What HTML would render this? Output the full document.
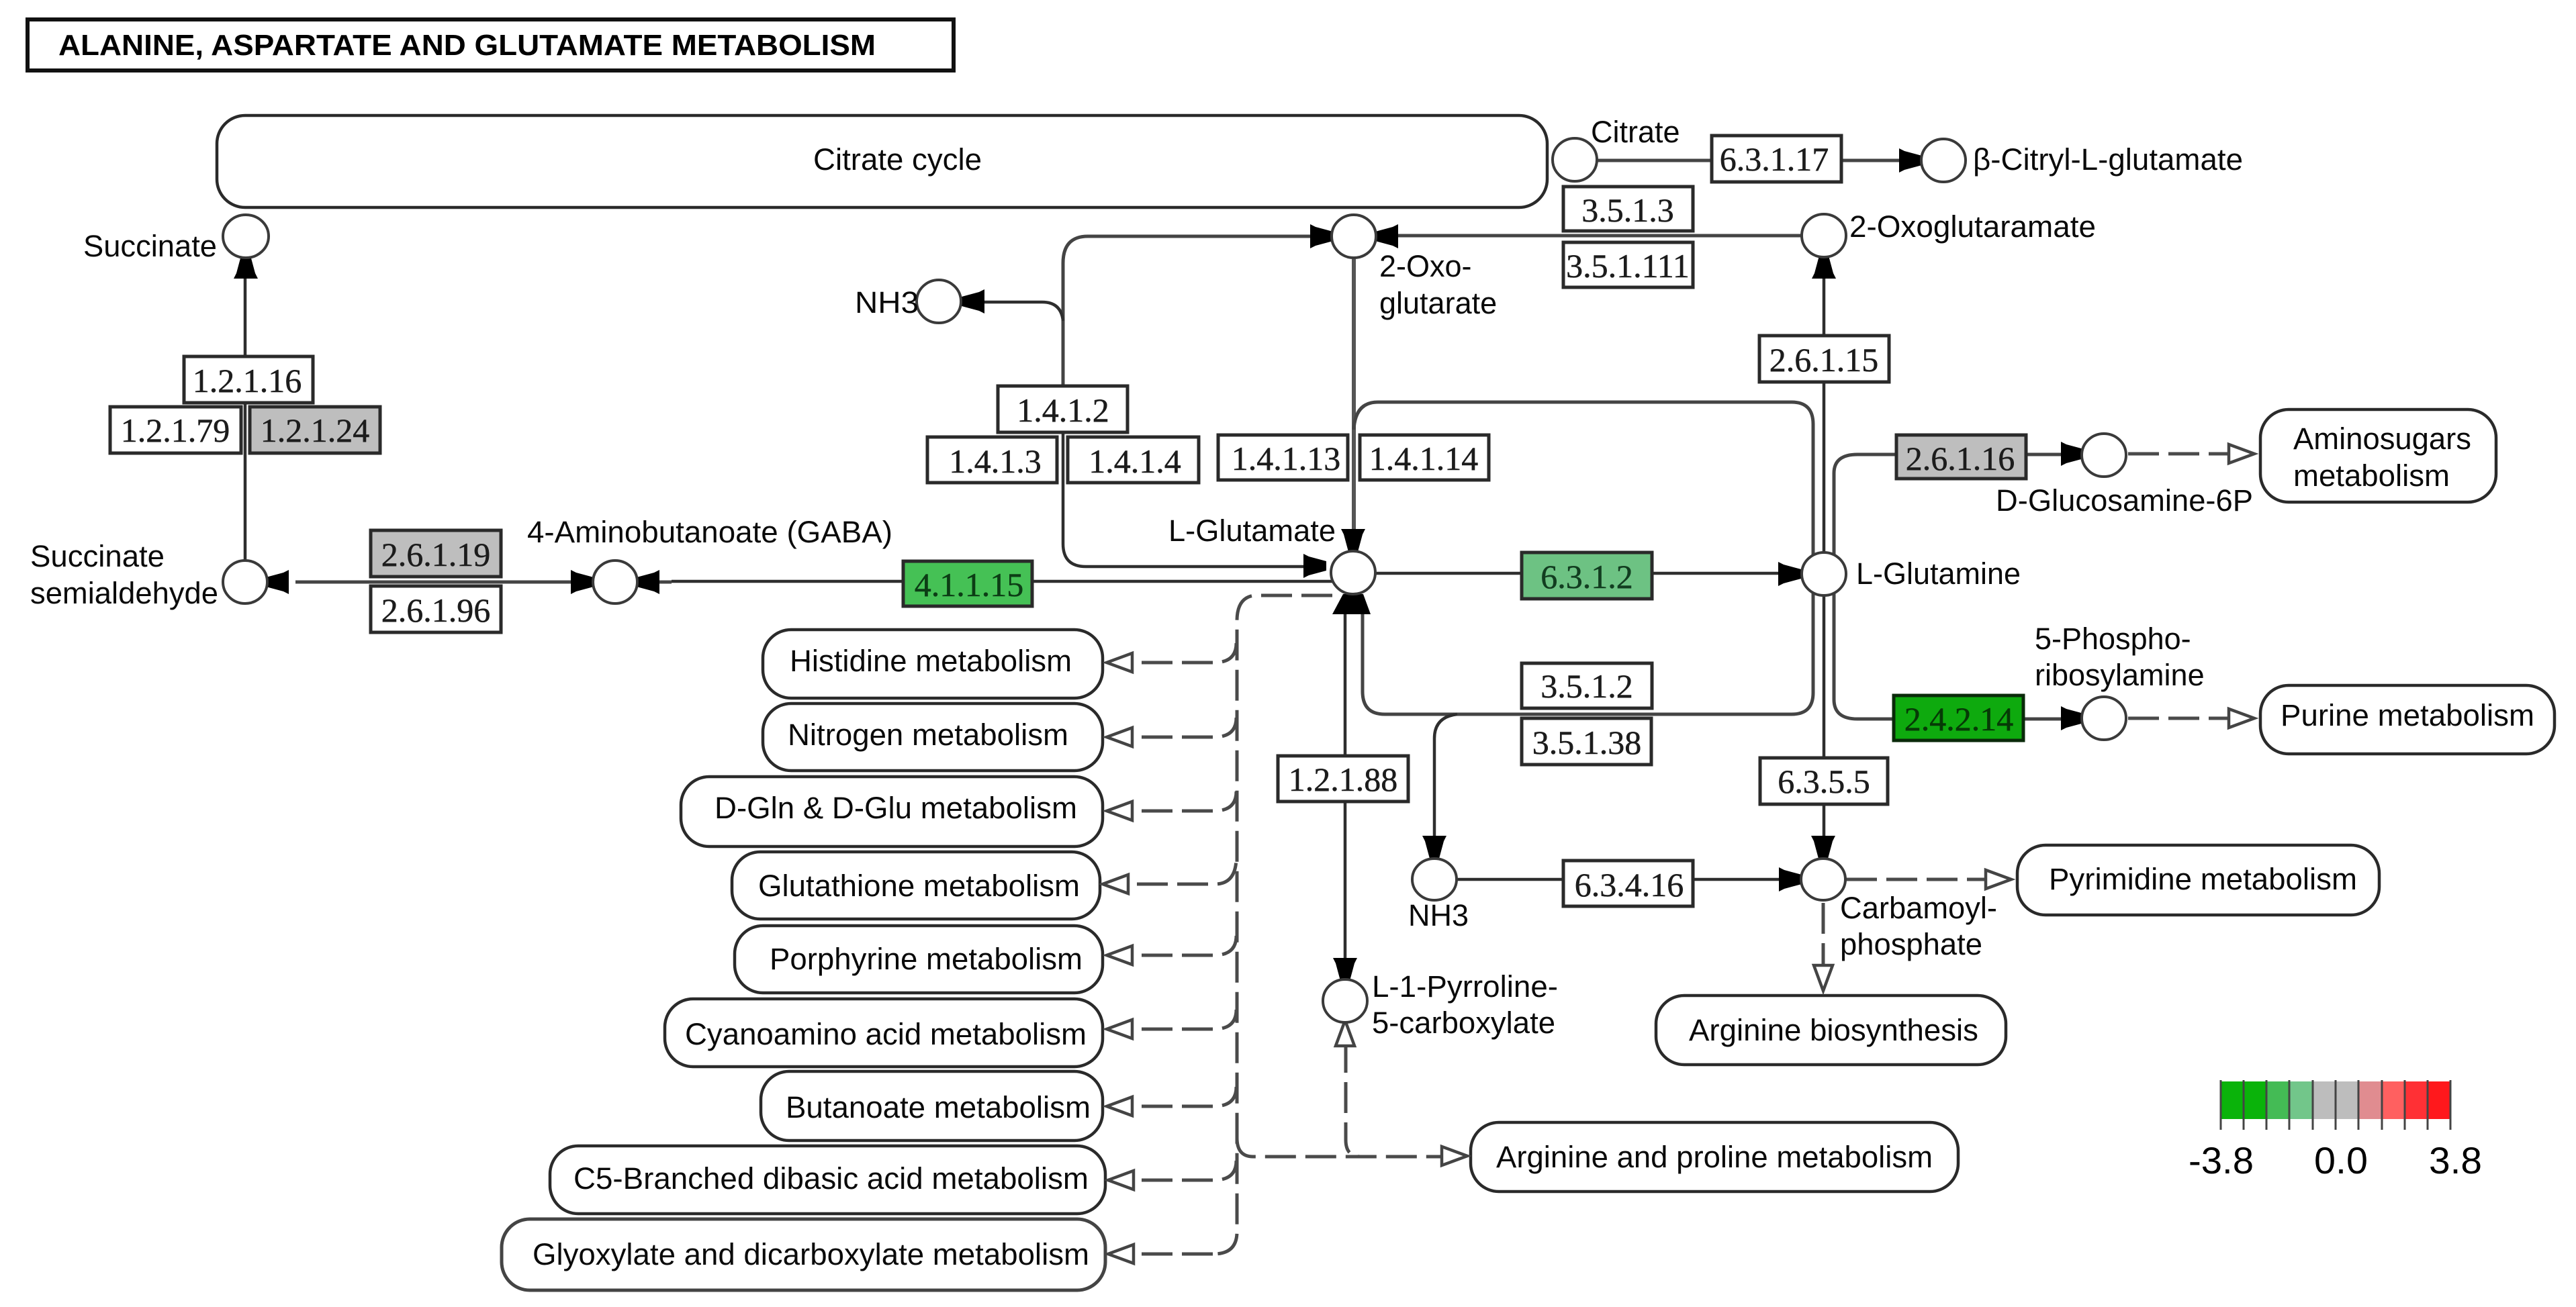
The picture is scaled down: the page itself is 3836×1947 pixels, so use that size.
<!DOCTYPE html>
<html><head><meta charset="utf-8"><style>
html,body{margin:0;padding:0;background:#fff}
svg{display:block}
.t{font-family:"Liberation Sans",sans-serif;font-size:45px;fill:#0a0a0a}
.e{font-family:"Liberation Serif",serif;font-size:50px;fill:#1c1c1c;text-anchor:middle;stroke:#1c1c1c;stroke-width:.5}
.l{fill:none;stroke:#2e2e2e;stroke-width:4.5}
.g{fill:none;stroke:#555;stroke-width:6}
.d{fill:none;stroke:#4a4a4a;stroke-width:5;stroke-dasharray:46 14}
.p{fill:#fff;stroke:#2a2a2a;stroke-width:4.5}
.b{stroke:#2a2a2a;stroke-width:5;fill:#fff}
.c{fill:#fff;stroke:#3a3a3a;stroke-width:4}
</style></head><body>
<svg xmlns="http://www.w3.org/2000/svg" width="3836" height="1947" viewBox="0 0 3836 1947">
<defs>
<polygon id="f" points="0,-7 0,7 -26,14 -34,18 -34,-18 -26,-14" fill="#000"/>
<polygon id="o" points="0,0 -38,-14 -38,14" fill="#fff" stroke="#444" stroke-width="4.5"/>
</defs>
<rect width="3836" height="1947" fill="#fff"/>

<!-- title -->
<rect x="41" y="29" width="1379" height="76" fill="#fff" stroke="#111" stroke-width="6"/>
<text x="87" y="82" textLength="1217" lengthAdjust="spacingAndGlyphs" style="font-family:'Liberation Sans',sans-serif;font-size:44px;font-weight:bold;fill:#000">ALANINE, ASPARTATE AND GLUTAMATE METABOLISM</text>

<!-- Pathway boxes -->
<rect class="p" x="323" y="172" width="1981" height="137" rx="42" ry="42"/>
<rect class="p" x="1136" y="938" width="506" height="102" rx="42" ry="42"/>
<rect class="p" x="1136" y="1048" width="506" height="100" rx="42" ry="42"/>
<rect class="p" x="1014" y="1157" width="628" height="104" rx="42" ry="42"/>
<rect class="p" x="1090" y="1269" width="548" height="100" rx="42" ry="42"/>
<rect class="p" x="1094" y="1379" width="548" height="100" rx="42" ry="42"/>
<rect class="p" x="990" y="1488" width="652" height="101" rx="42" ry="42"/>
<rect class="p" x="1133" y="1596" width="509" height="103" rx="42" ry="42"/>
<rect class="p" x="819" y="1707" width="827" height="101" rx="42" ry="42"/>
<rect class="p" x="747" y="1816" width="899" height="106" rx="42" ry="42" style="stroke:#444;stroke-width:5"/>
<rect class="p" x="3366" y="610" width="351" height="138" rx="42" ry="42"/>
<rect class="p" x="3366" y="1021" width="438" height="102" rx="42" ry="42"/>
<rect class="p" x="3004" y="1259" width="539" height="104" rx="42" ry="42"/>
<rect class="p" x="2466" y="1483" width="521" height="103" rx="42" ry="42"/>
<rect class="p" x="2190" y="1672" width="726" height="103" rx="42" ry="42"/>

<!-- solid connectors -->
<path class="l" d="M365 385V867"/>
<path class="g" d="M440 867H1000" style="stroke:#444;stroke-width:5"/>
<path class="l" d="M1000 866H1985"/>
<path class="l" d="M1583 540V810Q1583 844 1617 844H1945"/>
<path class="g" d="M1985 352H1620Q1583 352 1583 392V600" style="stroke:#444;stroke-width:5"/>
<path class="l" d="M1583 478Q1580 450 1552 450H1450"/>
<path class="g" d="M2016 370V795"/>
<path class="l" d="M2016 640Q2018 599 2052 599H2668Q2700 599 2700 632V1032Q2700 1064 2668 1064H2062Q2029 1064 2029 1030V905" style="stroke:#444;stroke-width:5"/>
<path class="l" d="M2003 905V1435"/>
<path class="l" d="M2170 1064Q2136 1068 2136 1100V1250"/>
<path class="l" d="M2048 854H2650"/>
<path class="l" d="M2716 385V1250"/>
<path class="l" d="M2731 830V705Q2731 677 2766 677H3075" style="stroke:#444;stroke-width:5"/>
<path class="l" d="M2731 880V1042Q2731 1071 2766 1071H3075" style="stroke:#444;stroke-width:5"/>
<path class="g" d="M2375 239H2835" style="stroke:#444;stroke-width:5"/>
<path class="g" d="M2050 351H2685" style="stroke:#444;stroke-width:5"/>
<path class="l" d="M2168 1310H2660"/>

<!-- dashed connectors -->
<path class="d" d="M1984 887H1868Q1842 890 1842 925V1835Q1842 1868 1807 1868"/>
<path class="d" d="M1842 1695Q1842 1723 1866 1723H2150"/>
<path class="d" d="M2004 1552V1698Q2004 1723 2026 1723"/>
<g class="d" style="stroke-dasharray:46 14">
<path d="M1700 987H1812Q1841 985 1841 958"/>
<path d="M1700 1098H1812Q1841 1096 1841 1069"/>
<path d="M1700 1208H1812Q1841 1206 1841 1179"/>
<path d="M1693 1317H1812Q1841 1315 1841 1277"/>
<path d="M1700 1423H1812Q1841 1421 1841 1394"/>
<path d="M1700 1533H1812Q1841 1531 1841 1504"/>
<path d="M1700 1648H1812Q1841 1646 1841 1619"/>
<path d="M1700 1758H1812Q1841 1756 1841 1729"/>
<path d="M1700 1868H1808"/>
</g>
<path class="d" d="M3169 676H3322"/>
<path class="d" d="M3169 1070H3322"/>
<path class="d" d="M2749 1310H2960"/>
<path class="d" d="M2715 1345V1440"/>

<!-- filled arrowheads -->
<use href="#f" transform="translate(366,381) rotate(-90)"/>
<use href="#f" transform="translate(396,867) rotate(180)"/>
<use href="#f" transform="translate(884,867)"/>
<use href="#f" transform="translate(948,867) rotate(180)"/>
<use href="#f" transform="translate(1432,449) rotate(180)"/>
<use href="#f" transform="translate(1985,352)"/>
<use href="#f" transform="translate(2048,352) rotate(180)"/>
<use href="#f" transform="translate(1975,843)"/>
<use href="#f" transform="translate(2015,822) rotate(90)"/>
<polygon points="2000,885 2030,885 2041,915 1984,915" fill="#000"/>
<use href="#f" transform="translate(2003,1461) rotate(90)"/>
<use href="#f" transform="translate(2682,855)"/>
<use href="#f" transform="translate(2716,381) rotate(-90)"/>
<use href="#f" transform="translate(2862,239)"/>
<use href="#f" transform="translate(3103,676)"/>
<use href="#f" transform="translate(3103,1070)"/>
<use href="#f" transform="translate(2136,1279) rotate(90)"/>
<use href="#f" transform="translate(2715,1279) rotate(90)"/>
<use href="#f" transform="translate(2683,1310)"/>

<!-- open arrowheads -->
<use href="#o" transform="translate(1648,987) rotate(180)"/>
<use href="#o" transform="translate(1648,1098) rotate(180)"/>
<use href="#o" transform="translate(1648,1208) rotate(180)"/>
<use href="#o" transform="translate(1642,1317) rotate(180)"/>
<use href="#o" transform="translate(1648,1423) rotate(180)"/>
<use href="#o" transform="translate(1648,1533) rotate(180)"/>
<use href="#o" transform="translate(1648,1648) rotate(180)"/>
<use href="#o" transform="translate(1650,1758) rotate(180)"/>
<use href="#o" transform="translate(1650,1868) rotate(180)"/>
<use href="#o" transform="translate(2003,1520) rotate(-90)"/>
<use href="#o" transform="translate(2185,1722)"/>
<use href="#o" transform="translate(3357,676)"/>
<use href="#o" transform="translate(3357,1070)"/>
<use href="#o" transform="translate(2995,1310)"/>
<use href="#o" transform="translate(2715,1476) rotate(90)"/>

<!-- compound circles -->
<ellipse class="c" cx="366" cy="352" rx="34" ry="32"/>
<ellipse class="c" cx="365" cy="867" rx="33" ry="32"/>
<ellipse class="c" cx="916" cy="867" rx="33" ry="32"/>
<ellipse class="c" cx="1398" cy="449" rx="33" ry="32"/>
<ellipse class="c" cx="2016" cy="352" rx="33" ry="32"/>
<ellipse class="c" cx="2015" cy="853" rx="33" ry="32"/>
<ellipse class="c" cx="2345" cy="238" rx="33" ry="32"/>
<ellipse class="c" cx="2894" cy="239" rx="33" ry="32"/>
<ellipse class="c" cx="2716" cy="351" rx="33" ry="32"/>
<ellipse class="c" cx="2716" cy="855" rx="33" ry="32"/>
<ellipse class="c" cx="3133" cy="678" rx="33" ry="32"/>
<ellipse class="c" cx="3133" cy="1070" rx="33" ry="32"/>
<ellipse class="c" cx="2136" cy="1310" rx="33" ry="31"/>
<ellipse class="c" cx="2715" cy="1310" rx="33" ry="31"/>
<ellipse class="c" cx="2003" cy="1491" rx="33" ry="32"/>

<!-- enzyme boxes -->
<rect class="b" x="274" y="531" width="192" height="69"/><text class="e" x="368" y="584">1.2.1.16</text>
<rect class="b" x="164" y="606" width="195" height="69"/><text class="e" x="261" y="658">1.2.1.79</text>
<rect class="b" x="372" y="606" width="194" height="69" style="fill:#bebebe"/><text class="e" x="469" y="658">1.2.1.24</text>
<rect class="b" x="552" y="790" width="194" height="69" style="fill:#bebebe"/><text class="e" x="649" y="843">2.6.1.19</text>
<rect class="b" x="552" y="873" width="194" height="69"/><text class="e" x="649" y="926">2.6.1.96</text>
<rect class="b" x="1345" y="836" width="192" height="67" style="fill:#45c155"/><text class="e" x="1443" y="888" style="fill:#0c3d15;stroke:#0c3d15">4.1.1.15</text>
<rect class="b" x="1486" y="575" width="193" height="69"/><text class="e" x="1583" y="628">1.4.1.2</text>
<rect class="b" x="1381" y="651" width="193" height="68"/><text class="e" x="1482" y="704">1.4.1.3</text>
<rect class="b" x="1590" y="651" width="195" height="68"/><text class="e" x="1690" y="704">1.4.1.4</text>
<rect class="b" x="1814" y="648" width="193" height="67"/><text class="e" x="1915" y="700">1.4.1.13</text>
<rect class="b" x="2025" y="648" width="192" height="67"/><text class="e" x="2120" y="700">1.4.1.14</text>
<rect class="b" x="2266" y="823" width="194" height="69" style="fill:#6dc283"/><text class="e" x="2363" y="876" style="fill:#123d20;stroke:#123d20">6.3.1.2</text>
<rect class="b" x="2266" y="988" width="194" height="67"/><text class="e" x="2363" y="1039">3.5.1.2</text>
<rect class="b" x="2266" y="1070" width="193" height="69"/><text class="e" x="2363" y="1123">3.5.1.38</text>
<rect class="b" x="2328" y="278" width="193" height="66"/><text class="e" x="2424" y="330">3.5.1.3</text>
<rect class="b" x="2328" y="361" width="193" height="67"/><text class="e" x="2424" y="413">3.5.1.111</text>
<rect class="b" x="2549" y="202" width="193" height="69"/><text class="e" x="2642" y="254">6.3.1.17</text>
<rect class="b" x="2620" y="500" width="193" height="69"/><text class="e" x="2716" y="553">2.6.1.15</text>
<rect class="b" x="2824" y="648" width="193" height="65" style="fill:#bebebe"/><text class="e" x="2919" y="700">2.6.1.16</text>
<rect class="b" x="2820" y="1036" width="193" height="67" style="fill:#0eaa0e;stroke:#0a2a0a"/><text class="e" x="2917" y="1088" style="fill:#063a06;stroke:#063a06">2.4.2.14</text>
<rect class="b" x="2621" y="1129" width="190" height="69"/><text class="e" x="2716" y="1181">6.3.5.5</text>
<rect class="b" x="2328" y="1282" width="193" height="68"/><text class="e" x="2426" y="1335">6.3.4.16</text>
<rect class="b" x="1903" y="1126" width="194" height="68"/><text class="e" x="2000" y="1178">1.2.1.88</text>

<!-- labels -->
<text class="t" x="1211" y="253" textLength="251" lengthAdjust="spacingAndGlyphs">Citrate cycle</text>
<text class="t" x="124" y="382" textLength="199" lengthAdjust="spacingAndGlyphs">Succinate</text>
<text class="t" x="45" y="844" textLength="200" lengthAdjust="spacingAndGlyphs">Succinate</text>
<text class="t" x="45" y="899" textLength="280" lengthAdjust="spacingAndGlyphs">semialdehyde</text>
<text class="t" x="785" y="808" textLength="544" lengthAdjust="spacingAndGlyphs">4-Aminobutanoate (GABA)</text>
<text class="t" x="1273" y="466" textLength="95" lengthAdjust="spacingAndGlyphs">NH3</text>
<text class="t" x="2054" y="412">2-Oxo-</text>
<text class="t" x="2054" y="467">glutarate</text>
<text class="t" x="1740" y="806" textLength="249" lengthAdjust="spacingAndGlyphs">L-Glutamate</text>
<text class="t" x="2369" y="212">Citrate</text>
<text class="t" x="2938" y="253" textLength="402" lengthAdjust="spacingAndGlyphs">β-Citryl-L-glutamate</text>
<text class="t" x="2754" y="353" textLength="367" lengthAdjust="spacingAndGlyphs">2-Oxoglutaramate</text>
<text class="t" x="2764" y="870" textLength="245" lengthAdjust="spacingAndGlyphs">L-Glutamine</text>
<text class="t" x="2972" y="761" textLength="383" lengthAdjust="spacingAndGlyphs">D-Glucosamine-6P</text>
<text class="t" x="3030" y="967">5-Phospho-</text>
<text class="t" x="3030" y="1021">ribosylamine</text>
<text class="t" x="3415" y="669" textLength="265" lengthAdjust="spacingAndGlyphs">Aminosugars</text>
<text class="t" x="3415" y="724" textLength="233" lengthAdjust="spacingAndGlyphs">metabolism</text>
<text class="t" x="3396" y="1081" textLength="378" lengthAdjust="spacingAndGlyphs">Purine metabolism</text>
<text class="t" x="3051" y="1325" textLength="459" lengthAdjust="spacingAndGlyphs">Pyrimidine metabolism</text>
<text class="t" x="2515" y="1550" textLength="431" lengthAdjust="spacingAndGlyphs">Arginine biosynthesis</text>
<text class="t" x="2228" y="1739" textLength="650" lengthAdjust="spacingAndGlyphs">Arginine and proline metabolism</text>
<text class="t" x="2097" y="1379" textLength="90" lengthAdjust="spacingAndGlyphs">NH3</text>
<text class="t" x="2740" y="1368" textLength="234" lengthAdjust="spacingAndGlyphs">Carbamoyl-</text>
<text class="t" x="2740" y="1422" textLength="212" lengthAdjust="spacingAndGlyphs">phosphate</text>
<text class="t" x="2043" y="1485" textLength="277" lengthAdjust="spacingAndGlyphs">L-1-Pyrroline-</text>
<text class="t" x="2043" y="1539" textLength="273" lengthAdjust="spacingAndGlyphs">5-carboxylate</text>
<text class="t" x="1176" y="1000" textLength="420" lengthAdjust="spacingAndGlyphs">Histidine metabolism</text>
<text class="t" x="1173" y="1110" textLength="418" lengthAdjust="spacingAndGlyphs">Nitrogen metabolism</text>
<text class="t" x="1064" y="1219" textLength="540" lengthAdjust="spacingAndGlyphs">D-Gln &amp; D-Glu metabolism</text>
<text class="t" x="1129" y="1335" textLength="479" lengthAdjust="spacingAndGlyphs">Glutathione metabolism</text>
<text class="t" x="1146" y="1444" textLength="466" lengthAdjust="spacingAndGlyphs">Porphyrine metabolism</text>
<text class="t" x="1020" y="1556" textLength="598" lengthAdjust="spacingAndGlyphs">Cyanoamino acid metabolism</text>
<text class="t" x="1170" y="1665" textLength="454" lengthAdjust="spacingAndGlyphs">Butanoate metabolism</text>
<text class="t" x="854" y="1771" textLength="767" lengthAdjust="spacingAndGlyphs">C5-Branched dibasic acid metabolism</text>
<text class="t" x="793" y="1884" textLength="829" lengthAdjust="spacingAndGlyphs">Glyoxylate and dicarboxylate metabolism</text>

<!-- legend -->
<rect x="3307" y="1611" width="35" height="56" fill="#0ab30a"/>
<rect x="3341" y="1611" width="35" height="56" fill="#0ab30a"/>
<rect x="3376" y="1611" width="35" height="56" fill="#44bb55"/>
<rect x="3410" y="1611" width="35" height="56" fill="#72c68a"/>
<rect x="3444" y="1611" width="35" height="56" fill="#bdbdbd"/>
<rect x="3479" y="1611" width="35" height="56" fill="#bdbdbd"/>
<rect x="3513" y="1611" width="35" height="56" fill="#e08c90"/>
<rect x="3547" y="1611" width="35" height="56" fill="#ff6060"/>
<rect x="3581" y="1611" width="35" height="56" fill="#ff3035"/>
<rect x="3616" y="1611" width="34" height="56" fill="#ff181c"/>
<path d="M3307 1609V1683M3341 1609V1683M3375 1609V1683M3409 1609V1683M3444 1609V1683M3478 1609V1683M3512 1609V1683M3547 1609V1683M3581 1609V1683M3615 1609V1683M3649 1609V1683" stroke="#444" stroke-width="3" fill="none"/>
<text x="3259" y="1748" style="font-family:'Liberation Sans',sans-serif;font-size:56px;fill:#000" textLength="97" lengthAdjust="spacingAndGlyphs">-3.8</text>
<text x="3446" y="1748" style="font-family:'Liberation Sans',sans-serif;font-size:56px;fill:#000" textLength="80" lengthAdjust="spacingAndGlyphs">0.0</text>
<text x="3617" y="1748" style="font-family:'Liberation Sans',sans-serif;font-size:56px;fill:#000" textLength="79" lengthAdjust="spacingAndGlyphs">3.8</text>
</svg>
</body></html>
